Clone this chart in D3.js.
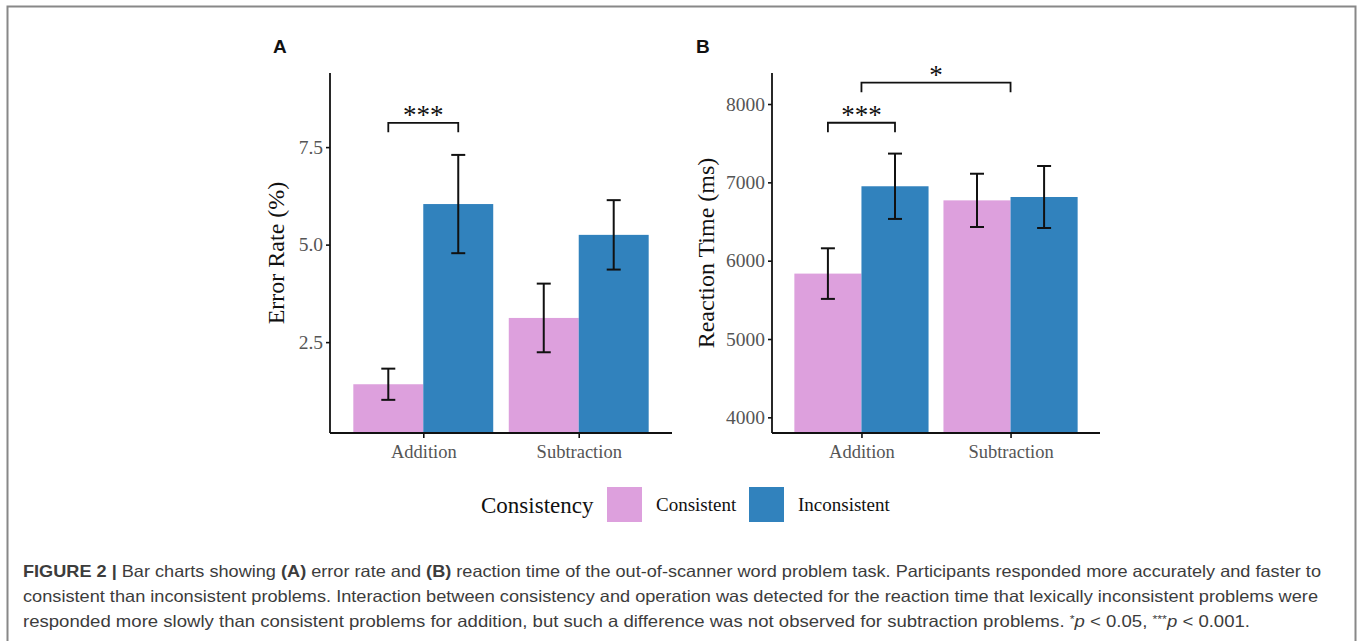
<!DOCTYPE html>
<html>
<head>
<meta charset="utf-8">
<script src="https://cdn.jsdelivr.net/npm/d3@7"></script>
<style>
  body { margin: 0; background: #fff; }
  svg { display: block; }
</style>
</head>
<body>
<div id="fig"></div>
<script>
// data
const operations = ['Addition', 'Subtraction'];
const groups = ['Consistent', 'Inconsistent'];

const errorConsistent = [1.42, 3.12];
const errorConsistentSe = [0.40, 0.88];
const errorInconsistent = [6.04, 5.25];
const errorInconsistentSe = [1.26, 0.89];

const rtConsistent = [5835, 6770];
const rtConsistentSe = [323, 340];
const rtInconsistent = [6950, 6813];
const rtInconsistentSe = [417, 396];

const errorTicks = [2.5, 5.0, 7.5];
const rtTicks = [4000, 5000, 6000, 7000, 8000];

// significance brackets: [from, to] as [operation, group], level, label
const errorSig = [
  { from: ['Addition', 'Consistent'], to: ['Addition', 'Inconsistent'], y: 8.12, leg: 7.88, label: '***' }
];
const rtSig = [
  { from: ['Addition', 'Consistent'], to: ['Addition', 'Inconsistent'], y: 7761, leg: 7640, label: '***' },
  { from: ['Addition', null], to: ['Subtraction', null], y: 8272, leg: 8149, label: '*' }
];

const colors = d3.scaleOrdinal().domain(groups).range(['#dda0dd', '#3182bd']);

const W = 1357, H = 641;
const serif = '"Liberation Serif", "Times New Roman", serif';
const svg = d3.select('#fig').append('svg').attr('width', W).attr('height', H);

// frame of the figure
svg.append('path')
  .attr('d', `M7.5,${H} V6.5 H1355.5 V${H}`)
  .attr('fill', 'none')
  .attr('stroke', '#888')
  .attr('stroke-width', 2);

function drawPanel(opts) {
  const g = svg.append('g');
  // ggplot discrete axis: 0.6 step of expansion on each side
  const step = (opts.right - opts.left) / 2.2;
  const xc = d => opts.left + step * (0.6 + operations.indexOf(d));
  const xg = d3.scaleBand().domain(groups).range([-0.45 * step, 0.45 * step]);
  const y = d3.scaleLinear().domain(opts.domain).range([opts.bottom, opts.top]);

  const rows = [];
  operations.forEach((op, i) => {
    rows.push({ op, grp: 'Consistent', v: opts.cons[i], se: opts.consSe[i] });
    rows.push({ op, grp: 'Inconsistent', v: opts.inc[i], se: opts.incSe[i] });
  });

  g.selectAll('rect.bar').data(rows).enter().append('rect')
    .attr('class', 'bar')
    .attr('x', d => xc(d.op) + xg(d.grp))
    .attr('width', xg.bandwidth())
    .attr('y', d => y(d.v))
    .attr('height', d => opts.bottom - y(d.v))
    .attr('fill', d => colors(d.grp));

  // error bars
  const cap = 7;
  const eb = g.selectAll('g.eb').data(rows).enter().append('g')
    .attr('transform', d => `translate(${xc(d.op) + xg(d.grp) + xg.bandwidth() / 2},0)`)
    .attr('stroke', '#111').attr('stroke-width', 2).attr('fill', 'none');
  eb.append('line').attr('y1', d => y(d.v - d.se)).attr('y2', d => y(d.v + d.se));
  eb.append('line').attr('x1', -cap).attr('x2', cap).attr('y1', d => y(d.v + d.se)).attr('y2', d => y(d.v + d.se));
  eb.append('line').attr('x1', -cap).attr('x2', cap).attr('y1', d => y(d.v - d.se)).attr('y2', d => y(d.v - d.se));

  // axes
  const yAxis = g.append('g').attr('transform', `translate(${opts.left},0)`)
    .call(d3.axisLeft(y).tickValues(opts.ticks).tickFormat(opts.fmt).tickSize(4).tickSizeOuter(0));
  const xAxis = g.append('g').attr('transform', `translate(0,${opts.bottom})`)
    .call(d3.axisBottom(d3.scalePoint().domain(operations).range([xc(operations[0]), xc(operations[1])]))
      .tickSize(5).tickSizeOuter(0));
  xAxis.select('.domain').attr('d', `M${opts.left},0H${opts.right}`);
  yAxis.select('.domain').attr('d', `M0,${opts.top}V${opts.bottom}`);
  [xAxis, yAxis].forEach(a => {
    a.select('.domain').attr('stroke', '#111').attr('stroke-width', 1.8);
    a.selectAll('.tick line').attr('stroke', '#111').attr('stroke-width', 1.6);
    a.selectAll('.tick text').attr('font-family', serif).attr('fill', '#555');
  });
  yAxis.selectAll('.tick text').attr('x', -7).attr('font-size', 19.5);
  xAxis.selectAll('.tick text').attr('y', 12).attr('font-size', 18.5);

  g.append('text')
    .attr('transform', `translate(${opts.left - opts.titleOff},${(opts.top + opts.bottom) / 2}) rotate(-90)`)
    .attr('text-anchor', 'middle')
    .attr('font-family', serif)
    .attr('font-size', 24).attr('fill', '#111')
    .text(opts.title);

  // significance
  const px = (pair) => pair[1] ? xc(pair[0]) + xg(pair[1]) + xg.bandwidth() / 2 : xc(pair[0]);
  opts.sig.forEach(s => {
    const x1 = px(s.from), x2 = px(s.to);
    g.append('path')
      .attr('d', `M${x1},${y(s.leg)}V${y(s.y)}H${x2}V${y(s.leg)}`)
      .attr('fill', 'none').attr('stroke', '#111').attr('stroke-width', 1.8);
    g.append('text')
      .attr('x', (x1 + x2) / 2).attr('y', y(s.y) + 1)
      .attr('text-anchor', 'middle')
      .attr('font-family', serif)
      .attr('font-size', 27).attr('fill', '#111')
      .text(s.label);
  });

  svg.append('text')
    .attr('x', opts.tagX).attr('y', 53)
    .attr('font-family', '"Liberation Sans", Arial, sans-serif')
    .attr('font-weight', 'bold').attr('font-size', 19).attr('fill', '#111')
    .text(opts.tag);
}

drawPanel({
  left: 330, right: 672, top: 73, bottom: 433, domain: [0.17, 9.4],
  cons: errorConsistent, consSe: errorConsistentSe, inc: errorInconsistent, incSe: errorInconsistentSe,
  ticks: errorTicks, fmt: d3.format('.1f'), title: 'Error Rate (%)', titleOff: 46,
  sig: errorSig, tag: 'A', tagX: 273
});
drawPanel({
  left: 772, right: 1100, top: 73, bottom: 433, domain: [3800, 8396],
  cons: rtConsistent, consSe: rtConsistentSe, inc: rtInconsistent, incSe: rtInconsistentSe,
  ticks: rtTicks, fmt: d3.format('d'), title: 'Reaction Time (ms)', titleOff: 58,
  sig: rtSig, tag: 'B', tagX: 696
});

// legend
const legend = svg.append('g').attr('font-family', serif);
legend.append('text').attr('x', 481).attr('y', 513).attr('font-size', 23).attr('fill', '#111').text('Consistency');
const legX = [607, 749];
const li = legend.selectAll('g.item').data(groups).enter().append('g')
  .attr('transform', (d, i) => `translate(${legX[i]},487)`);
li.append('rect').attr('width', 35).attr('height', 35).attr('fill', d => colors(d));
li.append('text').attr('x', 49).attr('y', 24).attr('font-size', 19).attr('fill', '#111').text(d => d);

// caption
const capLines = [
  { len: 1298, parts: [['FIGURE 2 | ', 'b'], ['Bar charts showing ', ''], ['(A)', 'b'], [' error rate and ', ''], ['(B)', 'b'],
    [' reaction time of the out-of-scanner word problem task. Participants responded more accurately and faster to', '']] },
  { len: 1295, parts: [['consistent than inconsistent problems. Interaction between consistency and operation was detected for the reaction time that lexically inconsistent problems were', '']] },
  { len: 1227, parts: [['responded more slowly than consistent problems for addition, but such a difference was not observed for subtraction problems. ', ''],
    ['*', 'sup'], ['p', 'i'], [' < 0.05, ', ''], ['***', 'sup'], ['p', 'i'], [' < 0.001.', '']] }
];
const capY = [577, 602, 627];
capLines.forEach((ln, i) => {
  const t = svg.append('text')
    .attr('x', 23).attr('y', capY[i])
    .attr('font-family', '"Liberation Sans", Arial, sans-serif')
    .attr('font-size', 16.5).attr('fill', '#3c3c3c')
    .attr('textLength', ln.len).attr('lengthAdjust', 'spacingAndGlyphs');
  ln.parts.forEach(p => {
    const ts = t.append('tspan').text(p[0]);
    if (p[1] === 'b') ts.attr('font-weight', 'bold');
    if (p[1] === 'i') ts.attr('font-style', 'italic');
    if (p[1] === 'sup') ts.attr('font-size', 11).attr('baseline-shift', '4');
  });
});
</script>
</body>
</html>
